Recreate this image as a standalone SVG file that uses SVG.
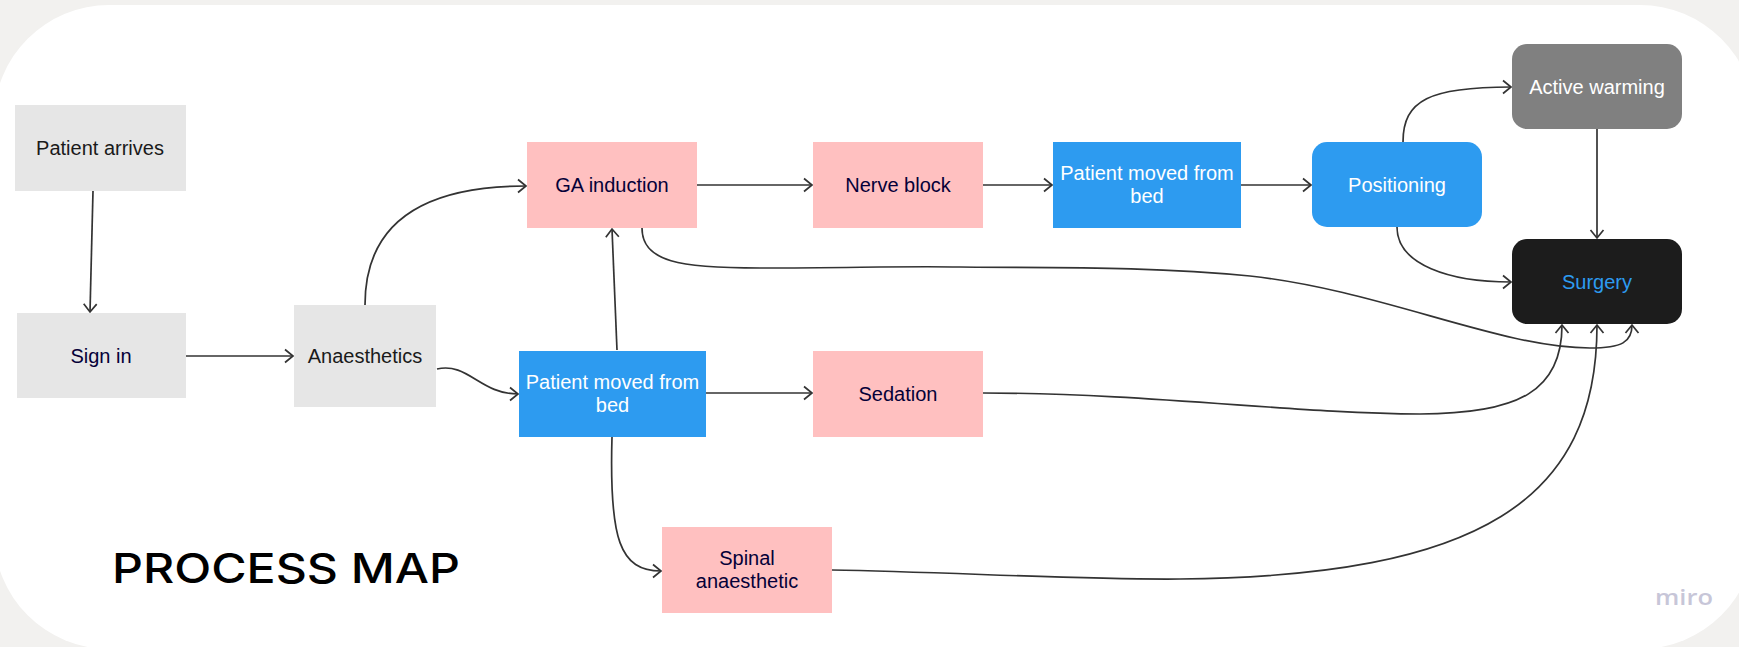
<svg xmlns="http://www.w3.org/2000/svg" width="1739" height="647" viewBox="0 0 1739 647">
<style>
.t{font-family:"Liberation Sans",Arial,sans-serif;font-size:20px;text-anchor:middle}
.dk{fill:#1a1a1a}.nv{fill:#050038}.wh{fill:#ffffff}
.grey{fill:#e6e6e6}.pink{fill:#ffc0c0}.blue{fill:#2d9bf0}
.c{fill:none;stroke:#333333;stroke-width:1.7}
</style>
<defs>
<marker id="ah" markerUnits="userSpaceOnUse" markerWidth="20" markerHeight="20" viewBox="-10 -10 20 20" refX="0" refY="0" orient="auto">
<path d="M-8,-6.5 L0,0 L-8,6.5" fill="none" stroke="#333333" stroke-width="1.7"/>
</marker>
</defs>
<rect x="0" y="0" width="1739" height="647" fill="#f2f1ef"/>
<rect x="-6" y="5" width="1761" height="644" rx="115" ry="115" fill="#ffffff"/>
<g id="connectors" class="c" marker-end="url(#ah)">
<path d="M93,191 L90,312"/>
<path d="M186,356 L293,356"/>
<path d="M365,305 C365,225 420,186 526,186"/>
<path d="M437,369 C468,362 480,394 518,394"/>
<path d="M697,185 L812,185"/>
<path d="M983,185 L1052,185"/>
<path d="M1241,185 L1311,185"/>
<path d="M1403,142 C1403,100 1430,87 1511,87"/>
<path d="M1597,129 L1597,238"/>
<path d="M1397,227 C1397,265 1450,282 1511,282"/>
<path d="M642,228 C642,262 680,268 760,268 C850,268 900,266 960,267 C1050,268 1150,266 1250,276 C1380,290 1500,348 1590,348 C1622,348 1632,342 1632,325"/>
<path d="M617,350 L612,229"/>
<path d="M706,393 L812,393"/>
<path d="M983,393 C1150,393 1300,414 1420,414 C1520,414 1562,390 1562,325"/>
<path d="M612,437 C609,540 620,571 661,571"/>
<path d="M832,570 C950,572 1080,580 1180,579 C1480,576 1597,500 1597,325"/>
</g>
<g id="patient-arrives"><rect class="grey" x="15" y="105" width="171" height="86"/><text class="t dk" x="100" y="155">Patient arrives</text></g>
<g id="sign-in"><rect class="grey" x="17" y="313" width="169" height="85"/><text class="t nv" x="101" y="363">Sign in</text></g>
<g id="anaesthetics"><rect class="grey" x="294" y="305" width="142" height="102"/><text class="t dk" x="365" y="363">Anaesthetics</text></g>
<g id="ga-induction"><rect class="pink" x="527" y="142" width="170" height="86"/><text class="t nv" x="612" y="192">GA induction</text></g>
<g id="nerve-block"><rect class="pink" x="813" y="142" width="170" height="86"/><text class="t nv" x="898" y="192">Nerve block</text></g>
<g id="patient-moved-top"><rect class="blue" x="1053" y="142" width="188" height="86"/><text class="t wh" x="1147" y="180">Patient moved from</text><text class="t wh" x="1147" y="203">bed</text></g>
<g id="positioning"><rect class="blue" x="1312" y="142" width="170" height="85" rx="15"/><text class="t wh" x="1397" y="192">Positioning</text></g>
<g id="active-warming"><rect x="1512" y="44" width="170" height="85" rx="15" fill="#808080"/><text class="t wh" x="1597" y="94">Active warming</text></g>
<g id="surgery"><rect x="1512" y="239" width="170" height="85" rx="15" fill="#1c1c1c"/><text class="t" x="1597" y="289" fill="#2d9bf0">Surgery</text></g>
<g id="patient-moved-bottom"><rect class="blue" x="519" y="351" width="187" height="86"/><text class="t wh" x="612.5" y="389">Patient moved from</text><text class="t wh" x="612.5" y="412">bed</text></g>
<g id="sedation"><rect class="pink" x="813" y="351" width="170" height="86"/><text class="t nv" x="898" y="401">Sedation</text></g>
<g id="spinal-anaesthetic"><rect class="pink" x="662" y="527" width="170" height="86"/><text class="t nv" x="747" y="565">Spinal</text><text class="t nv" x="747" y="588">anaesthetic</text></g>
<text x="112" y="583" font-family="Inter,'Open Sans',sans-serif" font-weight="500" font-size="41" fill="#000000" textLength="348" lengthAdjust="spacingAndGlyphs">PROCESS MAP</text>
<text x="1655" y="605" font-family="'Open Sans',Inter,sans-serif" font-weight="600" font-size="22" fill="#c7c6d8" textLength="58" lengthAdjust="spacingAndGlyphs">miro</text>
</svg>
